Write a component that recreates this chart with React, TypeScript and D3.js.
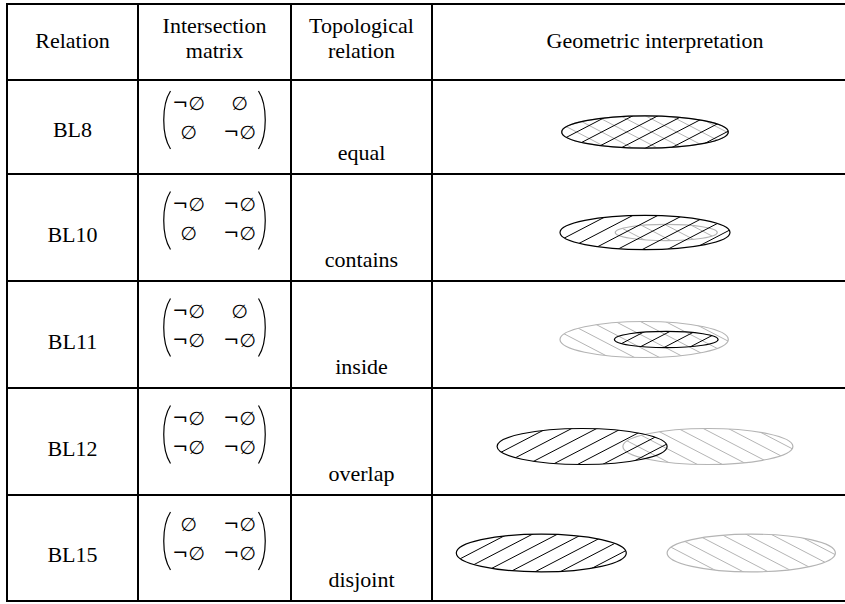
import * as d3 from 'd3';
import React from 'react';

// table content
const headers = [['Relation'], ['Intersection', 'matrix'], ['Topological', 'relation'], ['Geometric interpretation']];
const relations = ['BL8', 'BL10', 'BL11', 'BL12', 'BL15'];
const matrices = [
  [['¬∅', '∅'], ['∅', '¬∅']],
  [['¬∅', '¬∅'], ['∅', '¬∅']],
  [['¬∅', '∅'], ['¬∅', '¬∅']],
  [['¬∅', '¬∅'], ['¬∅', '¬∅']],
  [['∅', '¬∅'], ['¬∅', '¬∅']],
];
const topological = ['equal', 'contains', 'inside', 'overlap', 'disjoint'];

const W = 845;
const H = 604;
const colEdges = [7, 138, 291, 432, 878];
const rowHeights = [76, 94, 107, 107, 107, 106];
const rowEdges = [4, ...d3.cumsum(rowHeights).map((d) => d + 4)];

const serif = 'Liberation Serif, Times New Roman, serif';
const DARK = '#000';
const LIGHT = '#b4b4b4';
const SLOPE = 0.52;
const GAP = 25;

// geometric column: units of one region radius around the cell centre
const geoX = d3.scaleLinear([-1, 1], [560, 730]);
const geoY = d3.scaleLinear([-1, 1], [-18, 18]);

// region layouts (A = dark, B = light) for each relation
const regions = (rel: string) => {
  switch (rel) {
    case 'equal':
      return { A: { cx: 0, rx: 0.98, ry: 0.9 }, B: { cx: 0, rx: 0.98, ry: 0.9 } };
    case 'contains':
      return { A: { cx: 0, rx: 1, ry: 0.95 }, B: { cx: 0.25, rx: 0.6, ry: 0.45 } };
    case 'inside':
      return { A: { cx: 0.25, rx: 0.61, ry: 0.45 }, B: { cx: -0.01, rx: 0.99, ry: 1 } };
    case 'overlap':
      return { A: { cx: -0.74, rx: 1, ry: 1 }, B: { cx: 0.74, rx: 1, ry: 1 } };
    default:
      return { A: { cx: -1.22, rx: 1, ry: 1.05 }, B: { cx: 1.25, rx: 0.99, ry: 1.05 } };
  }
};

const Paren = ({ x, top, bottom, dir }: { x: number; top: number; bottom: number; dir: number }) => {
  const b = 8 * dir;
  const d = `M${x + b},${top} C${x - 1 * dir},${top + 14} ${x - 1 * dir},${bottom - 14} ${x + b},${bottom}`;
  return <path d={d} fill="none" stroke="#000" strokeWidth={1.2} />;
};

// hatched ellipse: outline plus clipped diagonal lines
const Region = ({ id, cx, cy, rx, ry, color, dir }: any) => {
  const offs = d3.range(-rx - 60, rx + 60, GAP);
  const h = ry + 4;
  return (
    <g>
      <clipPath id={id}>
        <ellipse cx={cx} cy={cy} rx={rx} ry={ry} />
      </clipPath>
      <g clipPath={`url(#${id})`}>
        {offs.map((o, k) => (
          <line
            key={k}
            x1={cx + o - h / SLOPE}
            y1={cy + h * dir}
            x2={cx + o + h / SLOPE}
            y2={cy - h * dir}
            stroke={color}
            strokeWidth={1}
          />
        ))}
      </g>
      <ellipse cx={cx} cy={cy} rx={rx} ry={ry} fill="none" stroke={color} strokeWidth={1.2} />
    </g>
  );
};

export default function App() {
  const colCenter = (i: number) => (colEdges[i] + colEdges[i + 1]) / 2;
  return (
    <svg width={W} height={H} style={{ position: 'absolute', left: 0, top: 0, background: '#fff' }}>
      {/* header */}
      {headers.map((lines, i) => (
        <text key={i} x={colCenter(i)} textAnchor="middle" fontFamily={serif} fontSize={22} fill="#000">
          {lines.map((t, j) => (
            <tspan key={j} x={colCenter(i)} y={lines.length === 1 ? 48 : 33 + j * 25}>
              {t}
            </tspan>
          ))}
        </text>
      ))}

      {relations.map((rel, i) => {
        const y0 = rowEdges[i + 1];
        const y1 = rowEdges[i + 2];
        const cy = (y0 + y1) / 2;
        const mx = colCenter(1);
        const rg = regions(topological[i]);
        const geo = (r: { cx: number; rx: number; ry: number }) => ({
          cx: geoX(r.cx),
          cy: cy + 5,
          rx: geoX(r.rx) - geoX(0),
          ry: geoY(r.ry) - geoY(0),
        });
        return (
          <g key={rel}>
            <text x={colCenter(0)} y={i === 0 ? cy + 10 : cy + 14} textAnchor="middle" fontFamily={serif} fontSize={22}>
              {rel}
            </text>
            <Paren x={mx - 52} top={cy - 36} bottom={cy + 22} dir={1} />
            <Paren x={mx + 52} top={cy - 36} bottom={cy + 22} dir={-1} />
            {matrices[i].map((row, r) =>
              row.map((v, c) => (
                <text
                  key={`${r}-${c}`}
                  x={mx + (c === 0 ? -26 : 25)}
                  y={cy - 17 + r * 29}
                  textAnchor="middle"
                  fontFamily="DejaVu Sans, sans-serif"
                  fontSize={19}
                  fill="#000"
                >
                  {v}
                </text>
              ))
            )}
            <text x={colCenter(2)} y={y1 - 14} textAnchor="middle" fontFamily={serif} fontSize={22}>
              {topological[i]}
            </text>
            <Region id={`b${i}`} {...geo(rg.B)} color={LIGHT} dir={-1} />
            <Region id={`a${i}`} {...geo(rg.A)} color={DARK} dir={1} />
          </g>
        );
      })}

      {/* grid */}
      {rowEdges.map((y, i) => (
        <line key={`h${i}`} x1={colEdges[0] - 1} x2={W} y1={y} y2={y} stroke="#000" strokeWidth={2} />
      ))}
      {colEdges.map((x, i) => (
        <line key={`v${i}`} x1={x} x2={x} y1={rowEdges[0]} y2={rowEdges[rowEdges.length - 1]} stroke="#000" strokeWidth={2} />
      ))}
    </svg>
  );
}
